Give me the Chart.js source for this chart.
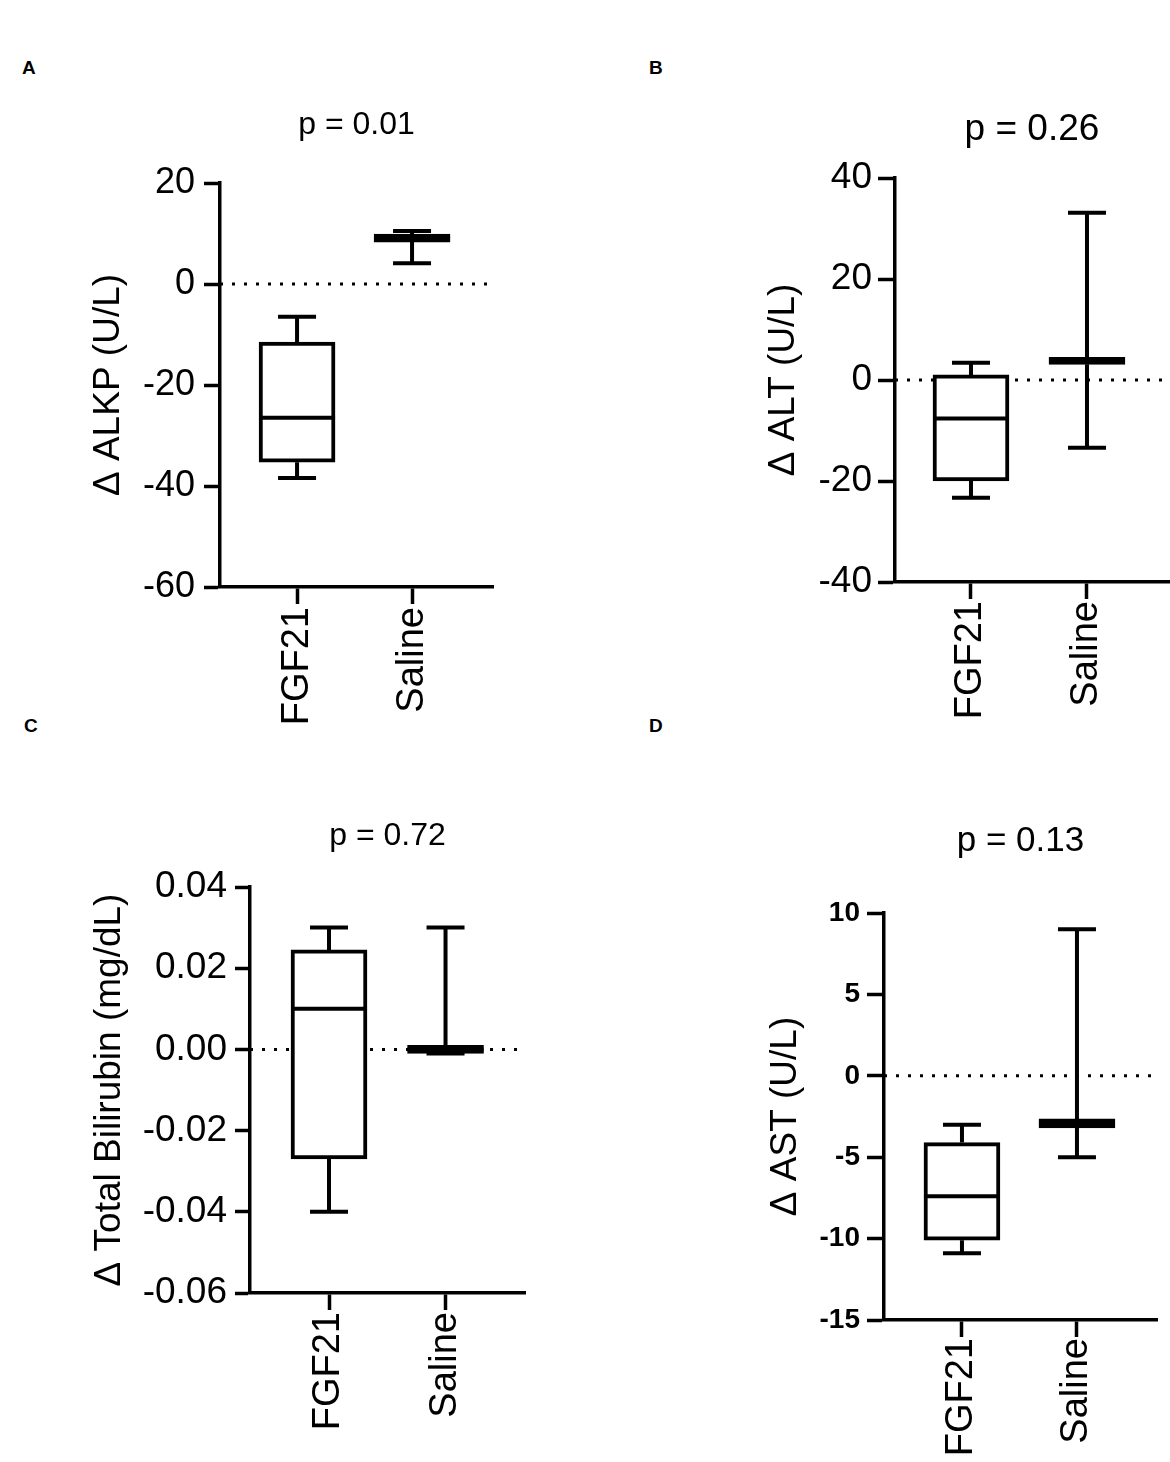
<!DOCTYPE html>
<html>
<head>
<meta charset="utf-8">
<script src="https://cdn.jsdelivr.net/npm/chart.js@4.4.1/dist/chart.umd.min.js"></script>
<style>
  body { margin: 0; background: #fff; }
  #page { position: relative; width: 1170px; height: 1462px; background: #fff; }
  canvas { position: absolute; }
  .tag { position: absolute; font: bold 19px "Liberation Sans", Arial, sans-serif; line-height: 19px; color: #000; }
</style>
</head>
<body>
<div id="page">
  <div class="tag" style="left:22px;top:58px">A</div>
  <div class="tag" style="left:649px;top:58px">B</div>
  <div class="tag" style="left:24px;top:716px">C</div>
  <div class="tag" style="left:649px;top:716px">D</div>
  <canvas id="chartA" width="585" height="731" style="left:0;top:0"></canvas>
  <canvas id="chartB" width="585" height="731" style="left:585px;top:0"></canvas>
  <canvas id="chartC" width="585" height="731" style="left:0;top:731px"></canvas>
  <canvas id="chartD" width="585" height="731" style="left:585px;top:731px"></canvas>
</div>
<script>
const groups = ['FGF21', 'Saline'];

// box summaries: [min, q1, median, q3, max]
const alkpFGF21 = [-38.4, -35.3, -26.5, -11.5, -6.5];
const alkpSaline = [4.1, 8.3, 9.1, 9.9, 10.5];
const altFGF21 = [-23.3, -20, -7.6, 1.0, 3.4];
const altSaline = [-13.4, 3.1, 3.8, 4.5, 33.1];
const biliFGF21 = [-0.04, -0.027, 0.01, 0.0245, 0.03];
const biliSaline = [-0.001, -0.001, 0, 0.001, 0.03];
const astFGF21 = [-10.9, -10.1, -7.4, -4.1, -3.0];
const astSaline = [-5, -3.2, -2.9, -2.65, 9];

// y tick values
const alkpTicks = [-60, -40, -20, 0, 20];
const altTicks = [-40, -20, 0, 20, 40];
const biliTicks = [-0.06, -0.04, -0.02, 0, 0.02, 0.04];
const astTicks = [-15, -10, -5, 0, 5, 10];

Chart.defaults.font.family = '"Liberation Sans", Arial, sans-serif';
Chart.defaults.color = '#000';

// whiskers, caps and median line on top of the box bars
const whiskerPlugin = {
  id: 'whiskers',
  afterDatasetsDraw(chart) {
    const { ctx, scales: { x, y } } = chart;
    const stats = chart.data.datasets[0].stats;
    ctx.save();
    ctx.strokeStyle = '#000';
    ctx.lineWidth = 4;
    stats.forEach((s, i) => {
      const cx = x.getPixelForValue(i + 1);
      const [lo, q1, med, q3, hi] = s.map(v => y.getPixelForValue(v));
      ctx.beginPath();
      ctx.moveTo(cx, q3); ctx.lineTo(cx, hi);
      ctx.moveTo(cx, q1); ctx.lineTo(cx, lo);
      ctx.moveTo(cx - 19, hi); ctx.lineTo(cx + 19, hi);
      ctx.moveTo(cx - 19, lo); ctx.lineTo(cx + 19, lo);
      ctx.moveTo(cx - 38, med); ctx.lineTo(cx + 38, med);
      ctx.stroke();
    });
    ctx.restore();
  }
};

function makePanel(canvasId, p) {
  new Chart(document.getElementById(canvasId), {
    type: 'bar',
    data: {
      datasets: [
        {
          type: 'bar',
          stats: p.stats,
          data: p.stats.map((s, i) => ({ x: i + 1, y: [s[1], s[3]] })),
          backgroundColor: '#fff',
          borderColor: '#000',
          borderWidth: 4,
          borderSkipped: false,
          barThickness: 76,
          order: 1
        },
        {
          type: 'line',
          data: [{ x: p.xMin, y: 0 }, { x: p.xMax, y: 0 }],
          borderColor: '#000',
          borderWidth: 3,
          borderDash: [3, 9],
          pointRadius: 0,
          order: 2
        }
      ]
    },
    options: {
      responsive: false,
      animation: false,
      devicePixelRatio: 1,
      events: [],
      layout: { padding: { left: 0, right: p.padRight, top: 0, bottom: 0 } },
      plugins: {
        legend: { display: false },
        tooltip: { enabled: false },
        title: {
          display: true,
          text: p.pText,
          fullSize: false,
          color: '#000',
          font: { size: p.titleSize, weight: 'normal', lineHeight: 1 },
          padding: { top: p.titleTop, bottom: p.titleBottom }
        }
      },
      scales: {
        x: {
          type: 'linear',
          min: p.xMin,
          max: p.xMax,
          offset: false,
          afterBuildTicks: s => { s.ticks = groups.map((g, i) => ({ value: i + 1 })); },
          afterFit: s => { s.height = p.xHeight; },
          grid: { offset: false, drawOnChartArea: false, drawTicks: true, tickLength: 17, tickWidth: 3.5, tickColor: '#000' },
          border: { display: true, color: '#000', width: 3.5 },
          ticks: {
            autoSkip: false,
            minRotation: 90,
            maxRotation: 90,
            padding: p.xPad,
            color: '#000',
            font: { size: 38, lineHeight: 1 },
            callback: v => groups[v - 1]
          }
        },
        y: {
          type: 'linear',
          min: p.ticks[0],
          max: p.ticks[p.ticks.length - 1],
          afterBuildTicks: s => { s.ticks = p.ticks.map(v => ({ value: v })); },
          afterFit: s => { s.width = p.left; },
          grid: { drawOnChartArea: false, drawTicks: true, tickLength: p.yTickLen, tickWidth: 3.5, tickColor: '#000' },
          border: { display: true, color: '#000', width: 3.5 },
          ticks: {
            padding: p.yTickPad,
            color: '#000',
            font: { size: p.yTickSize, weight: p.yTickBold ? 'bold' : 'normal', lineHeight: 1 },
            callback: p.fmt
          },
          title: {
            display: true,
            text: p.yTitle,
            color: '#000',
            font: { size: 37, lineHeight: 1 },
            padding: { top: p.yTitleOffset, bottom: 0 }
          }
        }
      }
    },
    plugins: [whiskerPlugin]
  });
}

makePanel('chartA', {
  stats: [alkpFGF21, alkpSaline], ticks: alkpTicks, fmt: v => String(v),
  pText: 'p = 0.01', yTitle: 'Δ ALKP (U/L)',
  left: 220, padRight: 92, xHeight: 144, xMin: 0.330, xMax: 2.704, xPad: 3,
  titleSize: 32, titleTop: 109, titleBottom: 42,
  yTitleOffset: 90, yTickSize: 36, yTickPad: 9, yTickLen: 16
});

makePanel('chartB', {
  stats: [altFGF21, altSaline], ticks: altTicks, fmt: v => String(v),
  pText: 'p = 0.26', yTitle: 'Δ ALT (U/L)',
  left: 310, padRight: 1, xHeight: 149, xMin: 0.345, xMax: 2.707, xPad: 2,
  titleSize: 37, titleTop: 111, titleBottom: 30,
  yTitleOffset: 180, yTickSize: 37, yTickPad: 6, yTickLen: 17
});

makePanel('chartC', {
  stats: [biliFGF21, biliSaline], ticks: biliTicks, fmt: v => (Math.abs(v) < 1e-9 ? 0 : v).toFixed(2),
  pText: 'p = 0.72', yTitle: 'Δ Total Bilirubin (mg/dL)',
  left: 250, padRight: 60, xHeight: 169, xMin: 0.322, xMax: 2.682, xPad: 2,
  titleSize: 32, titleTop: 89, titleBottom: 35,
  yTitleOffset: 91, yTickSize: 37, yTickPad: 8, yTickLen: 15
});

makePanel('chartD', {
  stats: [astFGF21, astSaline], ticks: astTicks, fmt: v => String(v),
  pText: 'p = 0.13', yTitle: 'Δ AST (U/L)',
  left: 299, padRight: 13, xHeight: 142, xMin: 0.322, xMax: 2.696, xPad: 1,
  titleSize: 35, titleTop: 93, titleBottom: 54,
  yTitleOffset: 182, yTickSize: 28, yTickBold: true, yTickPad: 7, yTickLen: 17
});
</script>
</body>
</html>
